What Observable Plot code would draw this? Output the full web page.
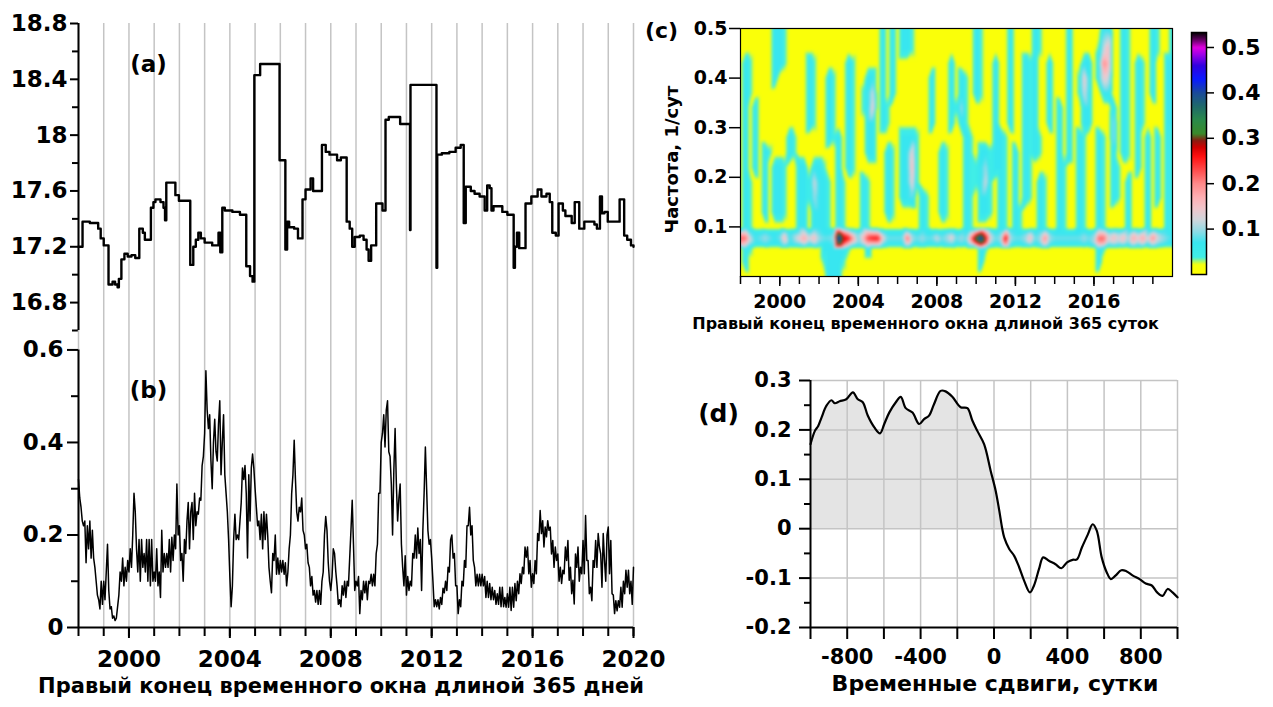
<!DOCTYPE html>
<html><head><meta charset="utf-8">
<script src="https://cdn.jsdelivr.net/npm/d3@7"></script>
<script src="https://cdn.jsdelivr.net/npm/@observablehq/plot@0.6"></script>
<style>
html,body{margin:0;padding:0;background:#fff;}
#root{position:relative;width:1273px;height:707px;overflow:hidden;}
#root svg{overflow:visible;position:absolute;}
</style></head><body><div id="root"></div>
<script>
// ---------------- DATA ----------------
// panel (a): step series (change points)
const aYears = [1998.00,1998.16,1998.45,1998.78,1998.88,1999.00,1999.19,1999.35,1999.45,1999.55,1999.60,1999.70,1999.82,1999.95,2000.10,2000.25,2000.41,2000.55,2000.63,2000.87,2000.97,2001.05,2001.25,2001.37,2001.43,2001.48,2001.84,2001.98,2002.43,2002.55,2002.65,2002.75,2002.85,2003.00,2003.30,2003.55,2003.62,2003.70,2003.80,2004.10,2004.40,2004.65,2004.80,2004.90,2004.97,2005.20,2005.97,2006.20,2006.27,2006.35,2006.55,2006.70,2006.88,2007.00,2007.20,2007.30,2007.65,2007.80,2007.95,2008.25,2008.40,2008.63,2008.75,2008.85,2008.95,2009.15,2009.30,2009.42,2009.50,2009.60,2009.80,2010.05,2010.17,2010.30,2010.75,2011.14,2011.16,2012.19,2012.22,2012.40,2012.70,2012.95,2013.15,2013.27,2013.35,2013.55,2013.70,2013.90,2014.10,2014.20,2014.30,2014.37,2014.45,2014.80,2015.00,2015.25,2015.30,2015.38,2015.47,2015.72,2015.95,2016.20,2016.35,2016.55,2016.68,2016.78,2016.92,2017.03,2017.20,2017.30,2017.55,2017.67,2017.85,2018.05,2018.45,2018.55,2018.67,2018.75,2018.85,2018.98,2019.45,2019.63,2019.75,2019.90,2020.00];
const aValues = [17.20,17.38,17.37,17.33,17.26,17.21,16.93,16.95,16.93,16.91,16.97,17.11,17.15,17.13,17.14,17.12,17.33,17.30,17.25,17.48,17.52,17.54,17.52,17.48,17.39,17.66,17.57,17.53,17.07,17.20,17.25,17.30,17.26,17.23,17.21,17.30,17.16,17.48,17.46,17.45,17.43,17.06,16.99,16.95,18.43,18.51,17.82,17.18,17.38,17.34,17.33,17.26,17.54,17.61,17.69,17.60,17.93,17.88,17.86,17.82,17.84,17.38,17.33,17.20,17.27,17.28,17.25,17.18,17.10,17.21,17.51,17.46,18.11,18.13,18.08,17.32,18.36,17.05,17.86,17.87,17.88,17.91,17.93,17.37,17.63,17.60,17.58,17.56,17.46,17.64,17.62,17.46,17.49,17.45,17.43,17.05,17.20,17.30,17.19,17.51,17.56,17.61,17.56,17.58,17.52,17.30,17.28,17.51,17.46,17.42,17.37,17.52,17.33,17.38,17.36,17.33,17.56,17.44,17.45,17.38,17.54,17.28,17.25,17.21,17.20];

// panel (b): one value every 0.05 year from 1998.00 to 2020.00
const bValues = [
0.32,0.28,0.26,0.23,0.22,0.23,0.14,0.22,0.17,0.23,0.15,0.21,0.15,0.13,0.10,0.07,0.06,0.04,0.10,0.05,
0.10,0.06,0.12,0.18,0.08,0.04,0.045,0.02,0.025,0.015,0.02,0.045,0.07,0.12,0.10,0.15,0.09,0.13,0.10,0.145,
0.12,0.17,0.13,0.20,0.29,0.25,0.17,0.12,0.19,0.10,0.19,0.13,0.16,0.12,0.19,0.10,0.19,0.09,0.19,0.10,
0.12,0.10,0.17,0.09,0.12,0.065,0.21,0.12,0.16,0.13,0.16,0.13,0.19,0.12,0.195,0.145,0.20,0.17,0.31,0.20,
0.22,0.145,0.16,0.10,0.19,0.16,0.23,0.27,0.17,0.25,0.27,0.19,0.29,0.22,0.25,0.245,0.28,0.275,0.35,0.37,
0.42,0.555,0.47,0.43,0.46,0.36,0.30,0.40,0.45,0.38,0.36,0.44,0.49,0.33,0.40,0.46,0.33,0.29,0.25,0.19,
0.11,0.045,0.09,0.19,0.245,0.19,0.20,0.19,0.23,0.27,0.345,0.32,0.35,0.29,0.15,0.33,0.23,0.345,0.375,0.345,
0.30,0.26,0.22,0.23,0.19,0.245,0.17,0.25,0.19,0.245,0.20,0.13,0.10,0.075,0.16,0.145,0.20,0.115,0.15,0.115,
0.145,0.12,0.145,0.115,0.14,0.09,0.12,0.17,0.20,0.29,0.33,0.405,0.32,0.25,0.23,0.26,0.25,0.28,0.21,0.20,
0.17,0.18,0.14,0.13,0.09,0.11,0.07,0.08,0.055,0.08,0.05,0.08,0.05,0.10,0.12,0.20,0.24,0.21,0.14,0.10,
0.08,0.11,0.17,0.16,0.12,0.09,0.05,0.06,0.045,0.09,0.07,0.10,0.065,0.10,0.09,0.15,0.21,0.275,0.18,0.08,
0.10,0.09,0.11,0.03,0.08,0.06,0.10,0.075,0.10,0.06,0.10,0.095,0.115,0.09,0.115,0.09,0.16,0.18,0.29,0.29,
0.40,0.42,0.46,0.39,0.47,0.49,0.38,0.37,0.31,0.20,0.34,0.43,0.31,0.23,0.28,0.31,0.18,0.13,0.09,0.155,
0.07,0.11,0.08,0.10,0.09,0.16,0.15,0.20,0.15,0.215,0.16,0.19,0.08,0.21,0.29,0.39,0.30,0.21,0.18,0.19,
0.15,0.10,0.045,0.06,0.045,0.06,0.04,0.065,0.05,0.085,0.075,0.10,0.08,0.13,0.12,0.19,0.20,0.15,0.16,0.09,
0.09,0.03,0.06,0.045,0.10,0.09,0.145,0.13,0.22,0.22,0.26,0.20,0.22,0.145,0.13,0.09,0.115,0.09,0.115,0.09,
0.115,0.09,0.11,0.065,0.10,0.065,0.095,0.06,0.087,0.06,0.08,0.05,0.073,0.05,0.087,0.045,0.087,0.045,0.065,0.044,
0.073,0.044,0.087,0.037,0.087,0.044,0.095,0.058,0.10,0.073,0.116,0.095,0.13,0.116,0.174,0.152,0.174,0.116,0.145,0.087,
0.116,0.095,0.145,0.116,0.203,0.188,0.253,0.203,0.231,0.174,0.217,0.196,0.231,0.21,0.217,0.159,0.188,0.13,0.174,0.145,
0.159,0.10,0.13,0.095,0.124,0.116,0.174,0.145,0.188,0.102,0.13,0.073,0.102,0.051,0.159,0.13,0.174,0.10,0.13,0.116,
0.188,0.116,0.242,0.145,0.145,0.073,0.087,0.058,0.145,0.13,0.188,0.13,0.203,0.174,0.159,0.087,0.203,0.145,0.10,0.20,
0.217,0.116,0.188,0.073,0.07,0.03,0.058,0.036,0.058,0.044,0.087,0.044,0.10,0.073,0.124,0.087,0.124,0.073,0.10,0.05,
0.13];
const bYears = bValues.map((_, i) => 1998 + i * 0.05);

// panel (c): spectrogram, rows top (0.5) to bottom (0), one char per quarter year 1998.00..2020.00
const heatFreqs = [0.50,0.46,0.43,0.40,0.37,0.34,0.31,0.28,0.25,0.22,0.19,0.16,0.13,0.10,0.086,0.077,0.068,0.055,0.03,0.0];
const heatRows = [
"1111 1113 3211 1111 1111 1111 1111 1313 1332 1111 1111 1111 3211 1113 1111 3211 1113 1111 1133 1132 1111 3211 3",
"1111 1113 3211 1111 1111 1111 1111 1313 1332 1111 1111 1111 3211 1113 1111 3211 1113 1111 1268 1132 1111 3211 3",
"1321 1113 3211 1132 1111 1132 1111 1313 1111 1111 1113 1111 3211 3113 1132 3113 1113 1133 13a8 1132 1321 3113 3",
"1321 1113 1111 1132 1132 1132 1133 1313 1111 1113 1113 1321 3211 3113 1132 3113 1113 1273 1376 1132 1321 3113 3",
"1321 1111 1111 1132 1132 1132 1236 1313 1111 1113 1113 1321 3211 3113 1132 3113 1113 1263 1133 1132 1321 3113 3",
"1313 1111 1111 1132 1132 1132 1237 1321 1111 1113 1113 2521 1111 3113 1132 3113 1313 1133 1111 3132 1321 1113 3",
"1313 1111 1111 1132 1132 1132 1133 1321 1111 1113 1113 1321 1111 3113 1132 3113 1313 1133 1111 5132 1321 1113 3",
"1313 1111 1132 1111 1132 3132 1133 1111 1333 2111 1111 1132 1111 3321 1132 3211 1313 1321 1321 5132 1313 1313 2",
"1313 1321 1132 1111 1111 3132 1133 1132 1337 2111 1321 1132 1332 3321 3132 3211 1313 1321 1321 3132 1313 1313 2",
"1313 1313 3211 3313 3211 3132 1111 1132 1338 2111 1321 1132 2352 3321 3132 1111 1321 1321 1321 3211 1313 1313 2",
"1321 1313 3211 3326 3321 3211 1321 1132 1337 2111 1321 1132 2362 1321 3132 1321 1321 1321 1321 3213 1113 1313 2",
"1321 1313 3211 3325 3321 3211 1321 1132 1334 1321 1321 1132 1332 1321 3132 1321 1321 1321 1321 3213 1113 1313 2",
"1321 1313 3211 3313 3321 3211 1321 1132 1111 1321 1321 1132 1332 1321 3211 1321 1321 1321 1321 1113 1113 1113 2",
"1321 1111 1111 3313 3321 3211 1321 1111 1111 1321 1111 1132 1111 1321 3211 1321 1321 1321 1321 1113 1113 1113 2",
"8843 3433 3634 5746 4334 hb96 4699 9533 3374 3433 4345 3437 bfa5 34a4 3346 3474 3333 3343 4885 6564 7574 7543 3",
"bb63 4543 4835 7968 5445 ned9 48cd d744 44b5 4544 6457 454a hmd6 45e5 4458 45a5 4444 4454 5bb6 8685 9796 a654 3",
"9853 3433 3634 5746 4334 jc96 4699 9533 3384 3433 4345 3437 cgb5 34b4 3346 3484 3333 3343 5995 6564 7574 7543 3",
"1321 1111 1111 1111 1333 3321 1131 1111 1111 1111 1111 1111 1321 1111 1111 1111 1111 1111 1321 1111 1111 1111 1",
"1311 1111 1111 1111 1233 3211 1111 1111 1111 1111 1111 1111 1311 1111 1111 1111 1111 1111 1311 1111 1111 1111 1",
"1111 1111 1111 1111 1133 3111 1111 1111 1111 1111 1111 1111 1111 1111 1111 1111 1111 1111 1111 1111 1111 1111 1"
];
// character code -> spectral amplitude
const heatLevels = [0,0.012,0.04,0.07,0.085,0.10,0.12,0.14,0.16,0.18,0.20,0.22,0.24,0.26,0.28,0.30,0.32,0.34,0.36,0.38,0.40,0.42,0.44,0.46,0.48,0.50,0.52];
const colorStops = [0,0.022,0.038,0.07,0.095,0.12,0.145,0.17,0.2,0.23,0.26,0.28,0.295,0.31,0.34,0.37,0.40,0.43,0.46,0.485,0.50,0.515,0.533];
const colorRange = ["#ffff00","#f6ff10","#40eee6","#38e6f0","#8fdbe6","#cfd6dc","#f0c6cc","#ffb0b4","#ff8a8a","#ff4c4c","#ff1010","#d00000","#8a1a10","#3a8a2a","#2a8a4a","#1f6a6a","#1a4a9a","#0a1aff","#3000e0","#a000e8","#e000e0","#700070","#000000"];

// panel (d): cross-correlation vs lag
const dLags = [-1000,-976,-958,-940,-913,-886,-868,-841,-805,-769,-742,-715,-688,-652,-621,-598,-571,-535,-508,-481,-444,-408,-381,-354,-327,-291,-264,-227,-182,-145,-118,-91,-54,-18,9,29,45,56,83,110,137,164,196,218,245,268,299,335,367,398,428,452,479,511,538,560,587,614,637,662,694,721,757,793,827,860,889,919,946,973,1000];
const dValues = [0.171,0.198,0.208,0.225,0.249,0.26,0.254,0.258,0.262,0.276,0.262,0.256,0.229,0.205,0.193,0.212,0.235,0.256,0.267,0.244,0.235,0.212,0.222,0.229,0.252,0.279,0.278,0.267,0.246,0.244,0.219,0.198,0.171,0.117,0.077,0.036,0.0,-0.018,-0.041,-0.055,-0.078,-0.105,-0.129,-0.115,-0.082,-0.058,-0.065,-0.072,-0.080,-0.068,-0.063,-0.062,-0.038,-0.012,0.009,-0.004,-0.058,-0.088,-0.102,-0.095,-0.084,-0.086,-0.095,-0.102,-0.111,-0.115,-0.129,-0.136,-0.122,-0.129,-0.139];

// ticks & labels
const yearTicks = d3.range(1998, 2021);
const yearLabels = [2000,2004,2008,2012,2016,2020];
const cYearTicks = d3.range(1998, 2020);
const cYearLabels = [2000,2004,2008,2012,2016];
const aTicks = [16.8,17.2,17.6,18,18.4,18.8];
const aTickLabels = ["16.8","17.2","17.6","18","18.4","18.8"];
const aMinor = [16.6,17.0,17.4,17.8,18.2,18.6];
const bTicks = [0,0.2,0.4,0.6];
const bTickLabels = ["0","0.2","0.4","0.6"];
const bMinor = [0.1,0.3,0.5];
const cTicks = [0.1,0.2,0.3,0.4,0.5];
const cbTicks = [0.1,0.2,0.3,0.4,0.5];
const dTicks = [-0.2,-0.1,0,0.1,0.2,0.3];
const dTickLabels = ["-0.2","-0.1","0","0.1","0.2","0.3"];
const dMinor = [-0.15,-0.05,0.05,0.15,0.25];
const dXTicks = [-1000,-800,-600,-400,-200,0,200,400,600,800,1000];
const dXLabels = [-800,-400,0,400,800];
const dGridX = [-800,-600,-400,-200,0,200,400,600,800,1000];
const dGridY = [-0.1,0,0.1,0.2,0.3];

const titleLeft = "Правый конец временного окна длиной 365 дней";
const titleC = "Правый конец временного окна длиной 365 суток";
const yTitleC = "Частота, 1/сут";
const titleD = "Временные сдвиги, сутки";

// ---------------- DRAW ----------------
const FONT = '"DejaVu Sans", sans-serif';
const root = document.getElementById("root");
function place(svg, left, top) { svg.style.left = left + "px"; svg.style.top = top + "px"; root.appendChild(svg); }
const baseStyle = {fontFamily: FONT, fontWeight: "bold", background: "transparent", color: "#000"};
const GRID = "#c4c4c4";

const aData = aYears.map((x, i) => ({x, v: aValues[i]}));
const bData = bYears.map((x, i) => ({x, v: bValues[i]}));
const dData = dLags.map((x, i) => ({x, v: dValues[i]}));
const heatData = [];
heatRows.forEach((row, r) => {
  row.replace(/ /g, "").split("").forEach((ch, c) => {
    heatData.push({year: 1998 + c * 0.25, freq: heatFreqs[r], v: heatLevels[parseInt(ch, 36)]});
  });
});
const colorScale = {type: "linear", domain: colorStops, range: colorRange, clamp: true};

// (a)
place(Plot.plot({
  width: 650, height: 331, marginLeft: 78, marginRight: 17, marginTop: 23, marginBottom: 1,
  style: {...baseStyle, fontSize: "23px"},
  x: {domain: [1998, 2020], axis: null},
  y: {domain: [16.6, 18.8]},
  marks: [
    Plot.ruleX(yearTicks, {stroke: GRID, strokeWidth: 1.5}),
    Plot.ruleX([1998], {y1: 16.6, y2: 18.8, stroke: "#000", strokeWidth: 2}),
    Plot.axisY(aMinor, {tickSize: 6, strokeWidth: 2, tickFormat: () => "", label: null}),
    Plot.axisY(aTicks, {tickSize: 8, tickPadding: 3, strokeWidth: 2, fontSize: 23, fontWeight: "bold", tickFormat: d => aTickLabels[aTicks.indexOf(d)], label: null}),
    Plot.line(aData, {x: "x", y: "v", curve: "step-after", stroke: "#000", strokeWidth: 2.4}),
    Plot.text(["(a)"], {text: d => d, frameAnchor: "top-left", dx: 70, dy: 32, fontSize: 23, fontWeight: "bold", textAnchor: "middle"})
  ]
}), 0, 0);

// (b)
place(Plot.plot({
  width: 650, height: 377, marginLeft: 78, marginRight: 17, marginTop: 0, marginBottom: 80,
  style: {...baseStyle, fontSize: "23px"},
  x: {domain: [1998, 2020]},
  y: {domain: [0, 0.642]},
  marks: [
    Plot.ruleX(yearTicks, {stroke: GRID, strokeWidth: 1.5}),
    Plot.ruleX([1998], {y1: 0, y2: 0.6, stroke: "#000", strokeWidth: 2}),
    Plot.ruleY([0], {stroke: "#000", strokeWidth: 2}),
    Plot.axisY(bMinor, {tickSize: 7, strokeWidth: 2, tickFormat: () => "", label: null}),
    Plot.axisY(bTicks, {tickSize: 11, tickPadding: 4, strokeWidth: 2, fontSize: 23, fontWeight: "bold", tickFormat: d => bTickLabels[bTicks.indexOf(d)], label: null}),
    Plot.axisX(yearTicks, {tickSize: 9, strokeWidth: 2, tickFormat: () => "", label: null}),
    Plot.axisX(yearLabels, {tickSize: 11, tickPadding: 12, strokeWidth: 2, fontSize: 23, fontWeight: "bold", tickFormat: d => String(d), label: null}),
    Plot.line(bData, {x: "x", y: "v", stroke: "#000", strokeWidth: 1.5}),
    Plot.text(["(b)"], {text: d => d, frameAnchor: "top-left", dx: 70, dy: 51, fontSize: 23, fontWeight: "bold", textAnchor: "middle"}),
    Plot.text([titleLeft], {text: d => d, frameAnchor: "bottom", dx: -15, dy: 65, fontSize: 21, fontWeight: "bold", textAnchor: "middle"})
  ]
}), 0, 330);

// (c)
place(Plot.plot({
  width: 623, height: 345, marginLeft: 90, marginRight: 101, marginTop: 28, marginBottom: 69,
  style: {...baseStyle, fontSize: "19px"},
  x: {domain: [1998, 2020]},
  y: {domain: [0, 0.5]},
  color: colorScale,
  marks: [
    Plot.raster(heatData, {x: "year", y: "freq", fill: "v", interpolate: "barycentric", blur: 1}),
    Plot.frame({stroke: "#000", strokeWidth: 1.2}),
    Plot.axisY(cTicks, {tickSize: 11, tickPadding: 2, strokeWidth: 1.5, fontSize: 19, fontWeight: "bold", tickFormat: d => d.toFixed(1), label: null}),
    Plot.axisX(cYearTicks, {tickSize: 8, strokeWidth: 1.5, tickFormat: () => "", label: null}),
    Plot.axisX(cYearLabels, {tickSize: 10, tickPadding: 8, strokeWidth: 1.5, fontSize: 19, fontWeight: "bold", tickFormat: d => String(d), label: null}),
    Plot.text(["(c)"], {text: d => d, frameAnchor: "top-left", dx: -79, dy: -6, fontSize: 22, fontWeight: "bold", textAnchor: "middle"}),
    Plot.text([titleC], {text: d => d, frameAnchor: "bottom", dx: -31, dy: 52, fontSize: 16, fontWeight: "bold", textAnchor: "middle"}),
    Plot.text([yTitleC], {text: d => d, frameAnchor: "left", dx: -68, dy: 7, rotate: -90, fontSize: 18, fontWeight: "bold", textAnchor: "middle"})
  ]
}), 650, 0);

// colorbar
place(Plot.plot({
  width: 88, height: 300, marginLeft: 6, marginRight: 67, marginTop: 32, marginBottom: 26,
  style: {...baseStyle, fontSize: "22px"},
  x: {domain: [0, 1], axis: null},
  y: {domain: [0, 0.533]},
  color: colorScale,
  marks: [
    Plot.raster({fill: (x, y) => y, x1: 0, x2: 1, y1: 0, y2: 0.533}),
    Plot.frame({stroke: "#000", strokeWidth: 1.5}),
    Plot.axisY(cbTicks, {anchor: "right", tickSize: 7, tickPadding: 8, strokeWidth: 1.5, fontSize: 22, fontWeight: "bold", tickFormat: d => d.toFixed(1), label: null})
  ]
}), 1185, 0);

// (d)
place(Plot.plot({
  width: 623, height: 362, marginLeft: 160, marginRight: 96, marginTop: 35, marginBottom: 80,
  style: {...baseStyle, fontSize: "21px"},
  x: {domain: [-1000, 1000]},
  y: {domain: [-0.2, 0.3]},
  marks: [
    Plot.areaY(dData, {x: "x", y1: 0, y2: d => Math.max(0, d.v), fill: "#e4e4e4", curve: "catmull-rom"}),
    Plot.ruleX(dGridX, {stroke: GRID, strokeWidth: 1.5}),
    Plot.ruleY(dGridY, {stroke: GRID, strokeWidth: 1.5}),
    Plot.ruleX([-1000], {stroke: "#000", strokeWidth: 2}),
    Plot.ruleY([-0.2], {stroke: "#000", strokeWidth: 2}),
    Plot.axisY(dMinor, {tickSize: 6, strokeWidth: 2, tickFormat: () => "", label: null}),
    Plot.axisY(dTicks, {tickSize: 11, tickPadding: 8, strokeWidth: 2, fontSize: 21, fontWeight: "bold", tickFormat: d => dTickLabels[dTicks.indexOf(d)], label: null}),
    Plot.axisX(dXTicks, {tickSize: 12, tickPadding: 10, strokeWidth: 2, fontSize: 21, fontWeight: "bold", tickFormat: d => dXLabels.includes(d) ? String(d) : "", label: null}),
    Plot.line(dData, {x: "x", y: "v", stroke: "#000", strokeWidth: 2.2, curve: "catmull-rom"}),
    Plot.text(["(d)"], {text: d => d, frameAnchor: "top-left", dx: -92, dy: 24, fontSize: 25, fontWeight: "bold", textAnchor: "middle"}),
    Plot.text([titleD], {text: d => d, frameAnchor: "bottom", dx: 1, dy: 63, fontSize: 22, fontWeight: "bold", textAnchor: "middle"})
  ]
}), 650, 345);
</script></body></html>
